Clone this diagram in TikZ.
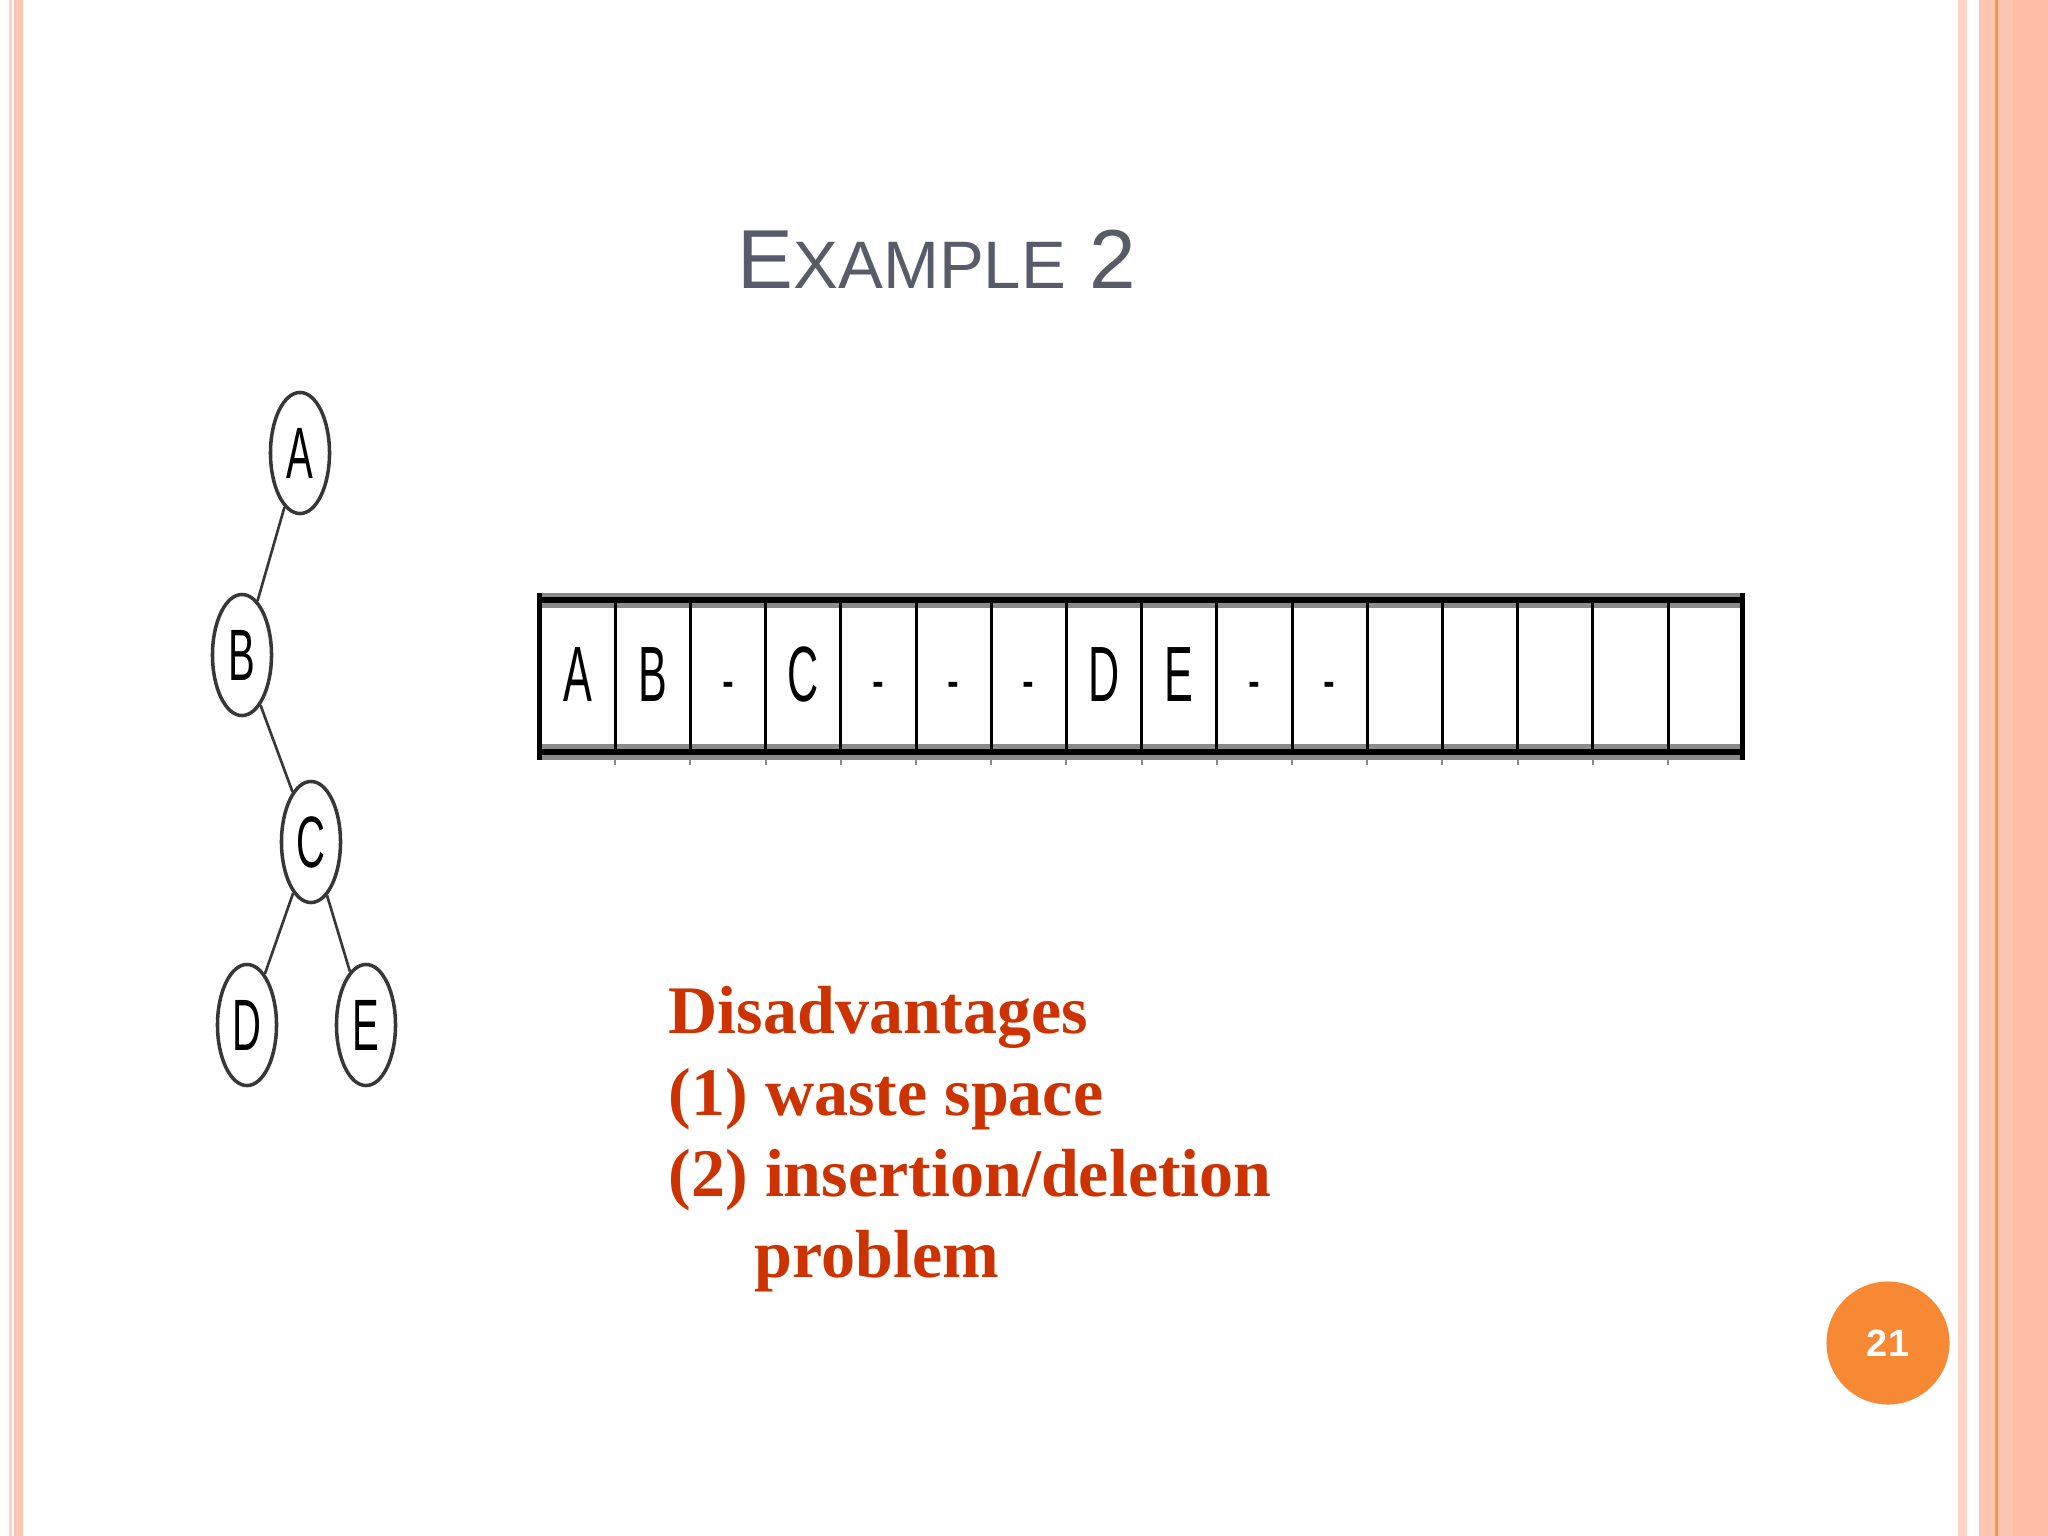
\documentclass[tikz,border=0pt]{standalone}
\usepackage{fontspec}
\setmainfont{Liberation Serif}
\setsansfont{Liberation Sans}
\usepackage{graphicx}
\usetikzlibrary{shapes.geometric}
\definecolor{salmon}{RGB}{252,197,176}
\definecolor{salmontwo}{RGB}{253,190,165}
\definecolor{edgelight}{RGB}{253,212,198}
\definecolor{orangeline}{RGB}{246,150,80}
\definecolor{pagecirc}{RGB}{247,137,53}
\definecolor{titlegray}{RGB}{88,92,104}
\definecolor{redtext}{RGB}{204,51,0}
\definecolor{bandgray}{RGB}{138,138,138}
\definecolor{treeline}{RGB}{55,55,55}
\tikzset{
  treenode/.style={ellipse, draw=treeline, line width=1pt, minimum width=0.59cm, minimum height=1.21cm, inner sep=0pt,
    font=\sffamily\fontsize{20.7}{24}\selectfont},
  treeedge/.style={draw=treeline, line width=0.75pt},
  cellnode/.style={anchor=base, inner sep=0pt, font=\sffamily\fontsize{22.3}{26}\selectfont},
  distext/.style={anchor=base west, inner sep=0pt, text=redtext, font=\bfseries\fontsize{19.35}{23}\selectfont},
}
\newcommand{\narrow}[1]{\scalebox{0.55}[1]{#1}}
\begin{document}
\begin{tikzpicture}[x=0.01cm,y=-0.01cm]
\useasboundingbox (0,0) rectangle (2048,1536);
\fill[white] (0,0) rectangle (2048,1536);
% borders
\fill[edgelight] (9,0) rectangle (12,1536);
\fill[salmon] (14,0) rectangle (23,1536);
\fill[edgelight] (1958,0) rectangle (1967,1536);
\fill[salmon] (1979,0) rectangle (2048,1536);
\fill[salmontwo] (2013,0) rectangle (2048,1536);
\fill[orangeline] (1995,0) rectangle (1998,1536);
% title
\node[anchor=base west, inner sep=0pt, text=titlegray, font=\sffamily] (title) at (737,288)
  {\fontsize{23.8}{28}\selectfont E\fontsize{19.1}{23}\selectfont XAMPLE\fontsize{23.8}{28}\selectfont{} 2};
% tree
\node[treenode] (A) at (300,453) {\narrow{A}};
\node[treenode] (B) at (242,655) {\narrow{B}};
\node[treenode] (C) at (311,842) {\narrow{C}};
\node[treenode] (D) at (247,1025) {\narrow{D}};
\node[treenode] (E) at (366,1025) {\narrow{E}};
\draw[treeedge] (A) -- (B);
\draw[treeedge] (B) -- (C);
\draw[treeedge] (C) -- (D);
\draw[treeedge] (C) -- (E);
% array
\fill[bandgray] (537,593) rectangle (1745,608);
\fill[black] (537,597) rectangle (1745,603);
\fill[bandgray] (537,744) rectangle (1745,760);
\fill[black] (537,749) rectangle (1745,755);
\foreach \k in {1,...,15} {
  \pgfmathsetmacro{\xx}{540+75.2*\k}
  \fill[bandgray] (\xx-1,593) rectangle (\xx+1,765);
  \fill[black] (\xx-1.5,597) rectangle (\xx+1.5,755);
}
\fill[black] (537,593) rectangle (542,760);
\fill[black] (1740,593) rectangle (1745,760);
\foreach \k/\t in {1/A,2/B,4/C,8/D,9/E} {
  \pgfmathsetmacro{\xx}{540+75.2*(\k-0.5)}
  \node[cellnode] (cell\k) at (\xx,701) {\narrow{\t}};
}
\foreach \k in {3,5,6,7,10,11} {
  \pgfmathsetmacro{\xx}{540+75.2*(\k-0.5)}
  \node[cellnode] (cell\k) at (\xx,701) {\scalebox{0.45}[0.8]{-}};
}
% disadvantages
\node[distext] (dis1) at (668,1033) {Disadvantages};
\node[distext] (dis2) at (668,1115) {(1) waste space};
\node[distext] (dis3) at (668,1196) {(2) insertion/deletion};
\node[distext] (dis4) at (754,1277) {problem};
% page number
\node[circle, fill=pagecirc, minimum size=1.23cm, inner sep=0pt, text=white, font=\sffamily\bfseries\fontsize{10.8}{12}\selectfont] (page) at (1888,1343) {21};
\end{tikzpicture}
\end{document}
